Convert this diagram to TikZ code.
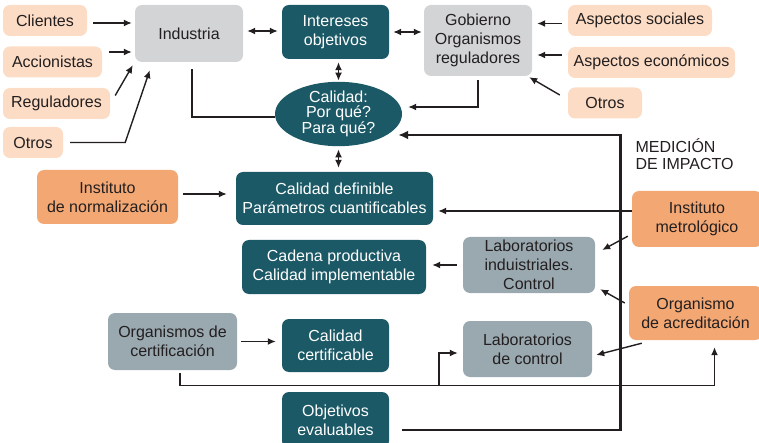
\documentclass[tikz,border=0pt]{standalone}
\usepackage{fontspec}
\setmainfont{Liberation Sans}
\usetikzlibrary{arrows.meta,shapes.geometric,calc}
\definecolor{peach}{HTML}{FCDCC4}
\definecolor{orng}{HTML}{F3A874}
\definecolor{tealc}{HTML}{1C5966}
\definecolor{lgr}{HTML}{D3D4D6}
\definecolor{bgr}{HTML}{9AA9B0}
\definecolor{txt}{HTML}{231F20}
\definecolor{lnc}{HTML}{231F20}
\begin{document}
\begin{tikzpicture}[x=1pt,y=-1pt,
  font=\fontsize{16}{19}\selectfont,
  box/.style={rounded corners=7pt, align=center, inner sep=0pt},
  pch/.style={box, fill=peach, text=txt},
  orgbox/.style={box, fill=orng, text=txt},
  tealbox/.style={box, fill=tealc, text=white},
  lgrbox/.style={box, fill=lgr, text=txt},
  bgrbox/.style={box, fill=bgr, text=txt},
  ln/.style={line width=1.4pt, draw=lnc},
  arr/.style={ln, -{Latex[length=8pt,width=7pt]}},
  darr/.style={ln, {Latex[length=8pt,width=7pt]}-{Latex[length=8pt,width=7pt]}},
  thk/.style={line width=2.8pt, draw=lnc, -{Latex[length=10pt,width=9pt]}}
]
\useasboundingbox (0,0) rectangle (759,443);

% left inputs
\node[pch, minimum width=84pt, minimum height=31pt] (cli) at (45,20.5) {Clientes};
\node[pch, minimum width=99pt, minimum height=31pt] (acc) at (52.5,62) {Accionistas};
\node[pch, minimum width=107pt, minimum height=31pt] (reg) at (56.5,103.5) {Reguladores};
\node[pch, minimum width=60pt, minimum height=31pt] (ot1) at (33,142.5) {Otros};

% top row
\node[lgrbox, minimum width=108pt, minimum height=57pt] (ind) at (189,33.5) {Industria};
\node[tealbox, minimum width=107pt, minimum height=54pt] (int) at (335.5,32) {Intereses\\objetivos};
\node[lgrbox, minimum width=108pt, minimum height=71pt] (gob) at (478,40.5) {Gobierno\\Organismos\\reguladores};

% right inputs
\node[pch, minimum width=144pt, minimum height=31pt] (asoc) at (640,20.5) {Aspectos sociales};
\node[pch, minimum width=167pt, minimum height=31pt] (aeco) at (651.5,62.5) {Aspectos económicos};
\node[pch, minimum width=74pt, minimum height=31pt] (ot2) at (605,103) {Otros};

% ellipse
\node[ellipse, fill=tealc, text=white, minimum width=127pt, minimum height=62pt,
      inner sep=0pt, align=center, font=\fontsize{16}{14.5}\selectfont] (cal) at (338.5,114)
      {Calidad:\\Por qué?\\Para qué?};

% middle
\node[orgbox, minimum width=141pt, minimum height=54pt] (inorm) at (107.5,197) {Instituto\\de normalización};
\node[tealbox, minimum width=197pt, minimum height=53pt] (cdef) at (334.5,198.5) {Calidad definible\\Parámetros cuantificables};
\node[tealbox, minimum width=184pt, minimum height=54pt] (cad) at (334,267) {Cadena productiva\\Calidad implementable};
\node[bgrbox, minimum width=132pt, minimum height=56pt] (labi) at (529,265) {Laboratorios\\induistriales.\\Control};
\node[orgbox, minimum width=130pt, minimum height=56pt] (imet) at (697,219) {Instituto\\metrológico};
\node[orgbox, minimum width=133pt, minimum height=54pt] (oacr) at (695.5,313) {Organismo\\de acreditación};
\node[anchor=north west, align=left, text=txt, font=\fontsize{16}{17}\selectfont] (med) at (632,135) {MEDICIÓN\\DE IMPACTO};

% bottom
\node[bgrbox, minimum width=129pt, minimum height=57pt] (ocert) at (172.5,341.5) {Organismos de\\certificación};
\node[tealbox, minimum width=107pt, minimum height=53pt] (ccert) at (335.5,345.5) {Calidad\\certificable};
\node[bgrbox, minimum width=129pt, minimum height=56pt] (labc) at (527.5,349) {Laboratorios\\de control};
\node[tealbox, minimum width=107pt, minimum height=56pt] (obj) at (335.5,420) {Objetivos\\evaluables};

% connectors: left inputs
\draw[arr] ([xshift=6pt,yshift=-2.5pt]cli.east) -- ([xshift=-3pt,yshift=-2.5pt]cli.east -| ind.west);
\draw[arr] ([xshift=7pt,yshift=10pt]acc.east) -- ([xshift=-3pt,yshift=10pt]acc.east -| ind.west);
\draw[arr] ([xshift=5pt,yshift=8pt]reg.east) -- ([xshift=-2pt,yshift=-3pt]ind.south west);
\draw[arr] ([xshift=7pt]ot1.east) -- ++(55,0) -- ([xshift=15pt,yshift=-8pt]ind.south west);

% top row
\draw[darr] ([xshift=4pt,yshift=2.5pt]ind.east) -- ([xshift=-4pt,yshift=2.5pt]ind.east -| int.west);
\draw[darr] ([xshift=4pt]int.east) -- ([xshift=-2pt]int.east -| gob.west);
\draw[darr] ([yshift=-3pt]int.south -| cal.north) -- ([yshift=1pt]cal.north);
\draw[ln] ([xshift=3pt,yshift=-7pt]ind.south) |- ([yshift=-3pt]cal.west);
\draw[arr] ([yshift=-4pt]gob.south) |- ([xshift=6pt,yshift=7pt]cal.east);

% right inputs
\draw[arr] ([xshift=-6pt,yshift=-3pt]asoc.west) -- ([xshift=5pt,yshift=-3pt]asoc.west -| gob.east);
\draw[arr] ([xshift=-6pt,yshift=7.5pt]aeco.west) -- ([xshift=5pt,yshift=7.5pt]aeco.west -| gob.east);
\draw[arr] ([xshift=-8pt,yshift=8pt]ot2.west) -- ([xshift=-3pt,yshift=-1pt]gob.south east);

% middle
\draw[darr] ([yshift=-3pt]cal.south) -- ([yshift=4pt]cal.south |- cdef.north);
\draw[arr] ([xshift=5pt,yshift=3pt]inorm.east) -- ([xshift=-9pt,yshift=3pt]inorm.east -| cdef.west);
\draw[arr] ([yshift=8pt]imet.west) -- ([xshift=5pt,yshift=8pt]imet.west -| cdef.east);
\draw[arr] ([xshift=-4pt,yshift=11pt]imet.south west) -- ([xshift=7pt,yshift=15pt]labi.east);
\draw[arr] ([xshift=-6pt]labi.west) -- ([xshift=6pt]labi.west -| cad.east);
\draw[arr] ([xshift=-4pt,yshift=10pt]oacr.west) -- ([xshift=5pt,yshift=4pt]labi.south east);
\draw[arr] ([xshift=13pt,yshift=-3pt]oacr.south west) -- ([xshift=4pt,yshift=-6pt]labc.east);

% bottom
\draw[arr] ([xshift=4pt]ocert.east) -- ([xshift=-6pt]ocert.east -| ccert.west);
\draw[arr] ([xshift=7.5pt,yshift=-3pt]ocert.south) |- ([xshift=19pt,yshift=-45pt]oacr.south) -- ([xshift=19pt,yshift=-7pt]oacr.south);
\coordinate (bus) at (439,385);
\draw[arr] (bus) |- ([xshift=-5pt,yshift=-4pt]labc.west);

% feedback loop
\coordinate (corner) at (620.5,135);
\draw[thk] ([xshift=13pt,yshift=-10pt]obj.east) -| (corner) -- ([xshift=-4pt,yshift=-21pt]cal.east);
\end{tikzpicture}
\end{document}
